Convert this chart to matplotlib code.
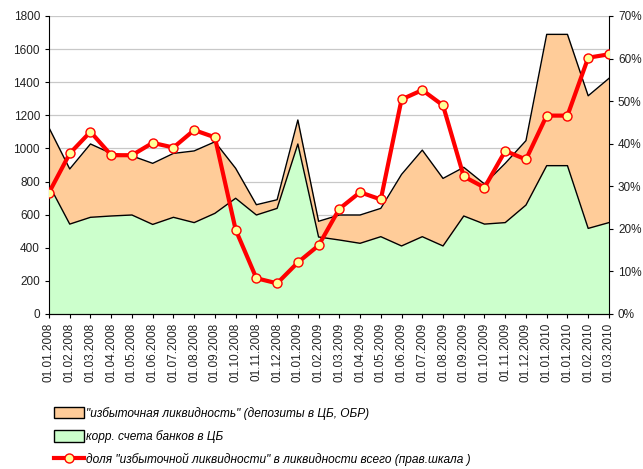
import matplotlib
matplotlib.use("Agg")
import matplotlib.pyplot as plt
from matplotlib.patches import Patch
from matplotlib.lines import Line2D
from matplotlib.ticker import FuncFormatter

plt.rcParams['font.family'] = ['Liberation Sans', 'DejaVu Sans']

# Даты (подписи оси X)
dates = ["01.01.2008", "01.02.2008", "01.03.2008", "01.04.2008", "01.05.2008",
         "01.06.2008", "01.07.2008", "01.08.2008", "01.09.2008", "01.10.2008",
         "01.11.2008", "01.12.2008", "01.01.2009", "01.02.2009", "01.03.2009",
         "01.04.2009", "01.05.2009", "01.06.2009", "01.07.2009", "01.08.2009",
         "01.09.2009", "01.10.2009", "01.11.2009", "01.12.2009", "01.01.2010",
         "01.01.2010", "01.02.2010", "01.03.2010"]

# Ликвидность всего (корр. счета + депозиты/ОБР), млрд руб.
total = [1125, 876, 1027, 970, 955, 910, 970, 985, 1040, 880,
         660, 690, 1172, 560, 598, 598, 638, 843, 990, 819,
         886, 785, 910, 1047, 1689, 1689, 1318, 1423]

# Корр. счета банков в ЦБ
corr = [780, 543, 584, 592, 598, 541, 584, 552, 608, 699,
        598, 638, 1027, 465, 447, 427, 467, 411, 467, 411,
        592, 543, 552, 658, 896, 896, 517, 552]

# Доля "избыточной ликвидности", %
share = [28.5, 37.7, 42.8, 37.3, 37.3, 40.2, 39.1, 43.2, 41.5, 19.8,
         8.4, 7.2, 12.1, 16.1, 24.7, 28.6, 26.9, 50.4, 52.6, 49.0,
         32.3, 29.7, 38.3, 36.3, 46.6, 46.6, 60.2, 61.0]

x = list(range(len(dates)))
orange = "#FFCC99"
green = "#CCFFCC"

fig = plt.figure(figsize=(6.43, 4.69), dpi=100)
ax = fig.add_axes([0.0762, 0.3305, 0.8708, 0.6354])

ax.fill_between(x, 0, corr, color=green, linewidth=0, zorder=2)
ax.fill_between(x, corr, total, color=orange, linewidth=0, zorder=2)
ax.plot(x, corr, color="black", linewidth=1, zorder=3)
ax.plot(x, total, color="black", linewidth=1, zorder=3)

ax.set_xlim(0, len(dates) - 1)
ax.set_ylim(0, 1800)
ax.set_yticks(range(0, 1801, 200))
ax.grid(axis="y", color="#c8c8c8", linewidth=0.9, zorder=1)
ax.set_axisbelow(True)
ax.set_xticks(x)
ax.set_xticklabels(dates, rotation=90, fontsize=8.5, color="#222222")
ax.tick_params(axis="y", labelsize=8.5, labelcolor="#222222", length=3)
ax.tick_params(axis="x", length=3)
ax.spines["top"].set_visible(False)
ax.spines["right"].set_visible(False)

ax2 = ax.twinx()
ax2.plot(x, [s / 100 for s in share], color="#FF0000", linewidth=3,
         marker="o", markersize=6.5, markerfacecolor="#FFFF99",
         markeredgecolor="#FF0000", markeredgewidth=1, zorder=5)
ax2.set_ylim(0, 0.7)
ax2.set_yticks([i / 10 for i in range(8)])
ax2.yaxis.set_major_formatter(FuncFormatter(lambda v, p: f"{round(v * 100)}%"))
ax2.tick_params(axis="y", labelsize=8.5, labelcolor="#222222", length=3)
ax2.spines["top"].set_visible(False)
ax2.spines["left"].set_visible(False)

handles = [
    Patch(facecolor=orange, edgecolor="black", linewidth=1),
    Patch(facecolor=green, edgecolor="black", linewidth=1),
    Line2D([0], [0], color="#FF0000", linewidth=3, marker="o", markersize=6.5,
           markerfacecolor="#FFFF99", markeredgecolor="#FF0000"),
]
labels = [
    '"избыточная ликвидность" (депозиты в ЦБ, ОБР)',
    'корр. счета банков в ЦБ',
    'доля "избыточной ликвидности" в ликвидности всего (прав.шкала )',
]
fig.legend(handles, labels, loc="lower left", bbox_to_anchor=(0.068, -0.017),
           frameon=False, prop={"style": "italic", "size": 8.6},
           handlelength=2.5, handleheight=1.1, handletextpad=0.1,
           labelspacing=0.85)

fig.savefig("out.png", dpi=100)
